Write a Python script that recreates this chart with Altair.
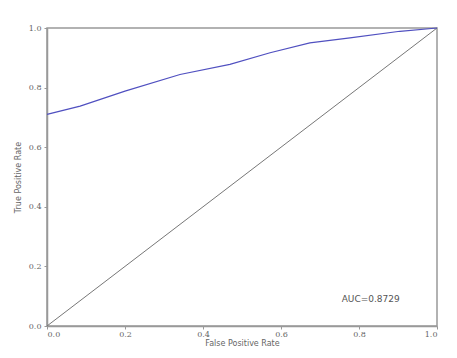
import altair as alt
import pandas as pd

fpr = [0.0, 0.085, 0.2, 0.341, 0.469, 0.572, 0.674, 0.777, 0.905, 1.0]
tpr = [0.71, 0.738, 0.788, 0.844, 0.878, 0.917, 0.950, 0.967, 0.989, 1.0]
diag_x = [0.0, 1.0]
diag_y = [0.0, 1.0]
ticks = [0.0, 0.2, 0.4, 0.6, 0.8, 1.0]
auc_label = "AUC=0.8729"

roc = pd.DataFrame({"fpr": fpr, "tpr": tpr})
diag = pd.DataFrame({"fpr": diag_x, "tpr": diag_y})
note = pd.DataFrame({"fpr": [0.83], "tpr": [0.09], "t": [auc_label]})

xs = alt.Scale(domain=[0, 1], nice=False)
ys = alt.Scale(domain=[0, 1], nice=False)
xax = alt.Axis(values=ticks, format=".1f", title="False Positive Rate", grid=False,
               labelFontSize=8, titleFontSize=8, labelColor="#666", titleColor="#666",
               domainColor="#999", domainWidth=1.5, tickColor="#999", tickSize=3,
               labelPadding=1, titlePadding=1, titleFontWeight="normal",
               labelFont="DejaVu Serif", titleFont="DejaVu Sans")
yax = alt.Axis(values=ticks, format=".1f", title="True Positive Rate", grid=False,
               labelFontSize=8, titleFontSize=8, labelColor="#666", titleColor="#666",
               domainColor="#999", domainWidth=1.5, tickColor="#999", tickSize=3,
               labelPadding=3, titlePadding=6, titleFontWeight="normal",
               labelFont="DejaVu Serif", titleFont="DejaVu Sans")

base_diag = alt.Chart(diag).mark_line(color="#777", strokeWidth=1).encode(
    x=alt.X("fpr:Q", scale=xs, axis=xax),
    y=alt.Y("tpr:Q", scale=ys, axis=yax),
)
roc_line = alt.Chart(roc).mark_line(color="#5050c0", strokeWidth=1.2).encode(
    x=alt.X("fpr:Q", scale=xs),
    y=alt.Y("tpr:Q", scale=ys),
)
txt = alt.Chart(note).mark_text(fontSize=9, color="#555", font="DejaVu Sans").encode(
    x=alt.X("fpr:Q", scale=xs),
    y=alt.Y("tpr:Q", scale=ys),
    text="t:N",
)

chart = (base_diag + roc_line + txt).properties(
    width=390, height=298,
    autosize=alt.AutoSizeParams(type="none"),
    padding={"left": 39, "top": 20, "right": 12, "bottom": 24},
    background="white",
).configure_view(stroke="#999", strokeWidth=1.5)

chart.save("out.html", embed_options={"renderer": "svg", "actions": False})
